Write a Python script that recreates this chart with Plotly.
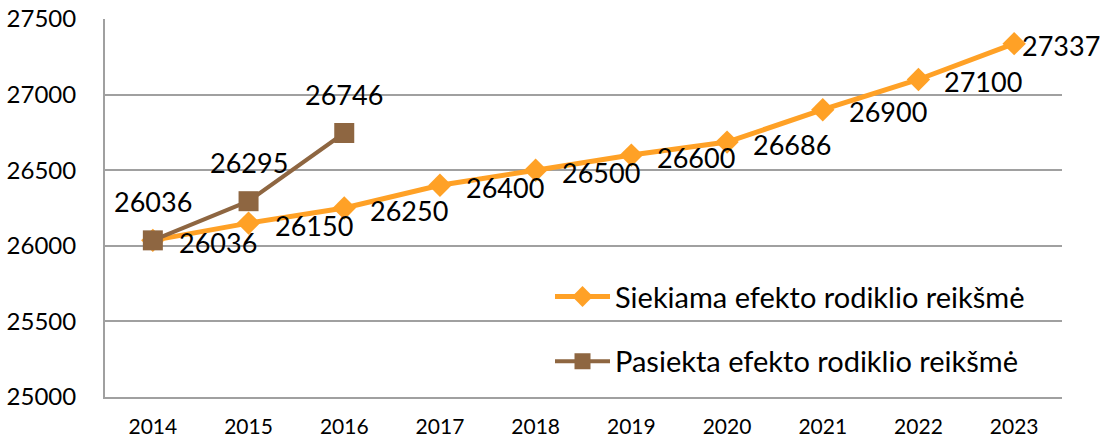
import plotly.graph_objects as go

years = ["2014", "2015", "2016", "2017", "2018", "2019", "2020", "2021", "2022", "2023"]
target = [26036, 26150, 26250, 26400, 26500, 26600, 26686, 26900, 27100, 27337]
achieved_years = ["2014", "2015", "2016"]
achieved = [26036, 26295, 26746]

name_target = "Siekiama efekto rodiklio reikšmė"
name_achieved = "Pasiekta efekto rodiklio reikšmė"

ORANGE = "#FFA126"
BROWN = "#8E6641"
FONT = "Lato"

fig = go.Figure()
fig.add_trace(go.Scatter(
    x=years, y=target, mode="lines+markers", name=name_target,
    line=dict(color=ORANGE, width=5),
    marker=dict(symbol="diamond", size=18, color=ORANGE),
    legendgroup="a",
))
fig.add_trace(go.Scatter(
    x=achieved_years, y=achieved, mode="lines+markers", name=name_achieved,
    line=dict(color=BROWN, width=4),
    marker=dict(symbol="square", size=20, color=BROWN),
    legendgroup="b",
))

for i, (x, y) in enumerate(zip(years, target)):
    last = i == len(years) - 1
    fig.add_annotation(
        x=i, y=y, xref="x", yref="y", text=str(y), showarrow=False,
        xanchor="left", yanchor="middle", xshift=6 if last else 24, yshift=-2,
        font=dict(family=FONT, size=27, color="black"),
    )
for i, (x, y) in enumerate(zip(achieved_years, achieved)):
    fig.add_annotation(
        x=years.index(x), y=y, xref="x", yref="y", text=str(y), showarrow=False,
        xanchor="center", yanchor="middle", yshift=39,
        font=dict(family=FONT, size=27, color="black"),
    )

fig.update_layout(
    width=1100, height=442,
    margin=dict(l=105, r=38, t=19, b=45, autoexpand=False),
    paper_bgcolor="white", plot_bgcolor="white",
    font=dict(family=FONT, color="black"),
    legend=dict(
        x=0.465, y=0.333, xanchor="left", yanchor="top",
        bgcolor="rgba(0,0,0,0)", font=dict(family=FONT, size=29, color="black"),
        traceorder="grouped", tracegroupgap=24, itemwidth=55,
    ),
    showlegend=True,
)
fig.update_xaxes(
    type="category", range=[-0.5, 9.5],
    showline=True, linecolor="#A0A0A0", linewidth=2,
    showgrid=False, ticks="", tickfont=dict(family=FONT, size=21, color="black"),
    ticklabelstandoff=10,
)
fig.update_yaxes(
    range=[25000, 27500], dtick=500, tick0=25000, tickformat="d",
    showline=True, linecolor="#A0A0A0", linewidth=2,
    showgrid=True, gridcolor="#A0A0A0", gridwidth=2,
    zeroline=False, ticks="", tickfont=dict(family=FONT, size=24, color="black"),
    ticklabelstandoff=22,
)

fig.write_html("out.html", config={"displayModeBar": False},
               post_script="document.body.style.margin='0';")
